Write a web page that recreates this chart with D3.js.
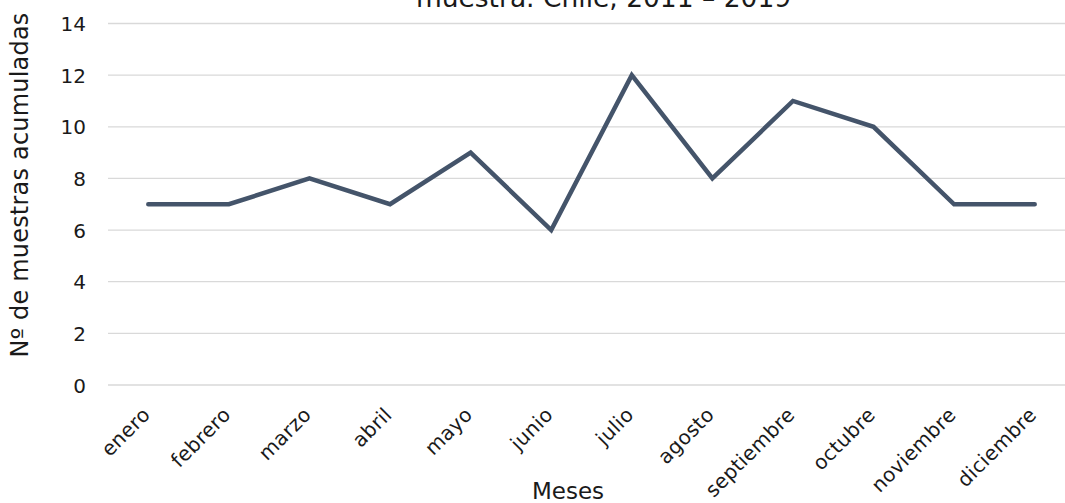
<!DOCTYPE html>
<html>
<head>
<meta charset="utf-8">
<script src="https://cdn.jsdelivr.net/npm/d3@7"></script>
<style>
  html, body { margin: 0; padding: 0; background: #fff; overflow: hidden; }
  svg { display: block; font-family: "DejaVu Sans", Verdana, sans-serif; }
</style>
</head>
<body>
<svg id="chart" width="1065" height="503"></svg>
<script>
// Monthly accumulated samples
const months = ["enero", "febrero", "marzo", "abril", "mayo", "junio", "julio",
                "agosto", "septiembre", "octubre", "noviembre", "diciembre"];
const samples = [7, 7, 8, 7, 9, 6, 12, 8, 11, 10, 7, 7];
const yTicks = [0, 2, 4, 6, 8, 10, 12, 14];

const titleText = "muestra. Chile, 2011 – 2019";
const xTitle = "Meses";
const yTitle = "Nº de muestras acumuladas";

const svg = d3.select("#chart");
const plot = { left: 108, right: 1075, top: 23.5, bottom: 385 };

const x = d3.scaleBand().domain(months).range([plot.left, plot.right]);
const y = d3.scaleLinear().domain([0, 14]).range([plot.bottom, plot.top]);

// Horizontal gridlines
svg.append("g")
  .selectAll("line")
  .data(yTicks)
  .join("line")
  .attr("x1", plot.left).attr("x2", plot.right)
  .attr("y1", d => y(d)).attr("y2", d => y(d))
  .attr("stroke", "#d9d9d9").attr("stroke-width", 1.3);

// Y axis tick labels
const yAxis = d3.axisLeft(y).tickValues(yTicks).tickSize(0).tickPadding(0);
svg.append("g")
  .attr("transform", `translate(86,0)`)
  .call(yAxis)
  .call(g => g.select(".domain").remove())
  .call(g => g.selectAll("text")
    .attr("fill", "#1a1a1a").attr("font-size", "20px")
    .attr("font-family", "DejaVu Sans, Verdana, sans-serif")
    .attr("dy", "0.36em"));

// X axis category labels, rotated
const xAxis = d3.axisBottom(x).tickSize(0).tickPadding(0);
svg.append("g")
  .attr("transform", `translate(0,${plot.bottom})`)
  .call(xAxis)
  .call(g => g.select(".domain").remove())
  .call(g => g.selectAll(".tick text")
    .attr("fill", "#1a1a1a").attr("font-size", "20px")
    .attr("font-family", "DejaVu Sans, Verdana, sans-serif")
    .attr("letter-spacing", "0.3px")
    .attr("text-anchor", "end")
    .attr("dy", null).attr("y", 0)
    .attr("transform", "translate(3,31) rotate(-45)"));

// Data line
const line = d3.line()
  .x((d, i) => x(months[i]) + x.bandwidth() / 2)
  .y(d => y(d));

svg.append("path")
  .datum(samples)
  .attr("d", line)
  .attr("fill", "none")
  .attr("stroke", "#44546a")
  .attr("stroke-width", 4.5)
  .attr("stroke-linejoin", "miter")
  .attr("stroke-linecap", "round");

// Title (last line)
svg.append("text")
  .attr("x", 603.5).attr("y", 7)
  .attr("text-anchor", "middle")
  .attr("font-size", "26.5px").attr("fill", "#1a1a1a")
  .text(titleText);

// Axis titles
svg.append("text")
  .attr("x", 568).attr("y", 499)
  .attr("text-anchor", "middle")
  .attr("font-size", "23px").attr("fill", "#1a1a1a")
  .text(xTitle);

svg.append("text")
  .attr("transform", "translate(28,185) rotate(-90)")
  .attr("text-anchor", "middle")
  .attr("font-size", "24px").attr("fill", "#1a1a1a")
  .attr("letter-spacing", "0.2px")
  .text(yTitle);
</script>
</body>
</html>
